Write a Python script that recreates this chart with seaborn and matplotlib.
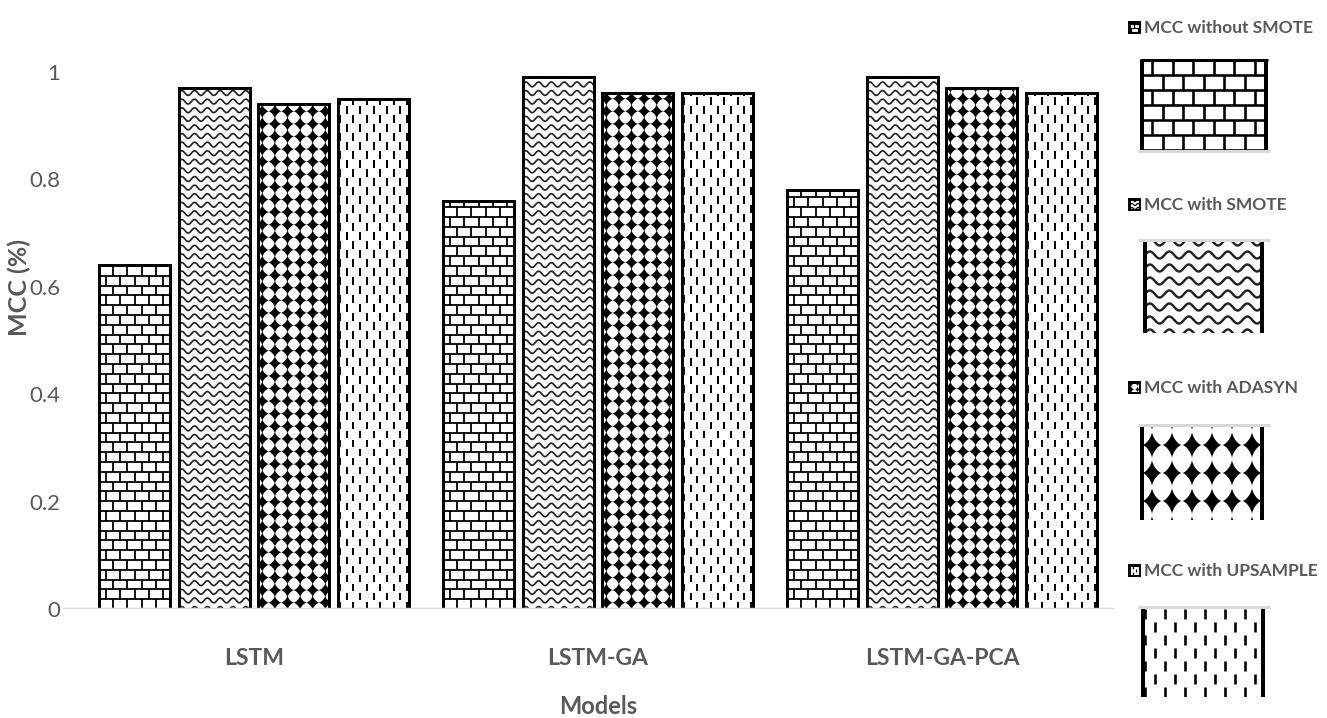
import numpy as np
import pandas as pd
import matplotlib
matplotlib.use("Agg")
import matplotlib.pyplot as plt
import seaborn as sns
from matplotlib import font_manager
from matplotlib.collections import LineCollection, PolyCollection
from matplotlib.patches import Rectangle
from matplotlib.path import Path
from matplotlib.transforms import Affine2D

# ---- data -------------------------------------------------------------
models = ["LSTM", "LSTM-GA", "LSTM-GA-PCA"]
methods = ["MCC without SMOTE", "MCC with SMOTE", "MCC with ADASYN", "MCC with UPSAMPLE"]
mcc_without_smote = [0.64, 0.76, 0.78]
mcc_with_smote = [0.97, 0.99, 0.99]
mcc_with_adasyn = [0.94, 0.96, 0.97]
mcc_with_upsample = [0.95, 0.96, 0.96]
y_ticks = [0, 0.2, 0.4, 0.6, 0.8, 1]
y_tick_labels = ["0", "0.2", "0.4", "0.6", "0.8", "1"]

df = pd.DataFrame({
    "Model": models * 4,
    "Method": np.repeat(methods, len(models)),
    "MCC": mcc_without_smote + mcc_with_smote + mcc_with_adasyn + mcc_with_upsample,
})

# ---- style ------------------------------------------------------------
sns.set_style("white")
installed = {f.name for f in font_manager.fontManager.ttflist}
narrow_first = [f for f in ["Liberation Sans Narrow", "DejaVu Sans Condensed", "Lato", "Roboto"]
                if f in installed]
plt.rcParams["font.family"] = narrow_first[:1] + ["DejaVu Sans"]
GREY_TXT = "#595959"
GREY_LINE = "#d9d9d9"

W, H, DPI = 1327, 718, 100
PX = 72.0 / DPI  # points per pixel

fig = plt.figure(figsize=(W / DPI, H / DPI), dpi=DPI)
fig.patch.set_facecolor("white")

AX_L, AX_R, AX_B = 63, 1114, 609
XMIN, XMAX, YMAX = -0.555, 2.5, 1.08
PX_PER_Y = 537.0
ax_h = YMAX * PX_PER_Y
ax = fig.add_axes([AX_L / W, (H - AX_B) / H, (AX_R - AX_L) / W, ax_h / H])

sns.barplot(
    data=df, x="Model", y="MCC", hue="Method", order=models, hue_order=methods,
    palette={m: "white" for m in methods}, saturation=1, width=0.927, gap=0.11,
    edgecolor="black", linewidth=3 * PX, errorbar=None, legend=False, ax=ax,
)
ax.set_xlim(XMIN, XMAX)
ax.set_ylim(0, YMAX)
sx = (AX_R - AX_L) / (XMAX - XMIN)
sy = PX_PER_Y


# ---- fill patterns (geometry in pixels, local origin bottom-left) -------
def brick(w, h, bw, bh, lw, color="black"):
    segs = []
    for k in range(int(np.ceil(h / bh)) + 1):
        y = k * bh
        segs.append([(-5, y), (w + 5, y)])
        x = (0.5 * bw if k % 2 else 0.0) - bw
        while x <= w + bw:
            segs.append([(x, y), (x, y + bh)])
            x += bw
    return [LineCollection(segs, colors=color, linewidths=lw * PX, capstyle="butt")]


def waves(w, h, period, dy, amp, lw, color="#222222"):
    xs = np.linspace(-period, w + period, int((w + 2 * period) * 2) + 2)
    segs = []
    for k in range(-1, int(np.ceil(h / dy)) + 2):
        ys = k * dy + 0.5 * amp * np.sin(2 * np.pi * xs / period)
        segs.append(np.column_stack([xs, ys]))
    return [LineCollection(segs, colors=color, linewidths=lw * PX)]


def diamonds(w, h, dx, dy, hw, hh, y_first, p=0.7):
    t = np.linspace(0, 2 * np.pi, 64, endpoint=False)
    c, s = np.cos(t), np.sin(t)
    ux = np.sign(c) * np.abs(c) ** (2 / p)
    uy = np.sign(s) * np.abs(s) ** (2 / p)
    polys = []
    n_side = int(np.ceil(w / dx / 2)) + 1
    xs = [w / 2 + (j + 0.5) * dx for j in range(-n_side, n_side)]
    y = y_first - dy * 2
    while y <= h + dy:
        for x in xs:
            polys.append(np.column_stack([x + hw * ux, y + hh * uy]))
        y += dy
    return [PolyCollection(polys, facecolors="black", edgecolors="none")]


def dashes(w, h, cx, period, length, lw):
    segs = []
    j = 0
    x = 2.0
    while x <= w + cx:
        off = 0.5 * period if j % 2 else 0.0
        y = off - period
        while y <= h + period:
            segs.append([(x, y), (x, y + length)])
            y += period
        x += cx
        j += 1
    return [LineCollection(segs, colors="black", linewidths=lw * PX, capstyle="butt")]


bar_fill = {
    methods[0]: lambda w, h: brick(w, h, 14.3, 9.8, 1.8),
    methods[1]: lambda w, h: waves(w, h, 12.8, 8.6, 4.8, 1.7),
    methods[2]: lambda w, h: diamonds(w, h, 12.6, 12.6, 6.6, 7.2, 6.3),
    methods[3]: lambda w, h: dashes(w, h, 6.7, 18.0, 7.5, 2.0),
}

for method, container in zip(methods, ax.containers):
    for bar in container:
        x0, bw_d, bh_d = bar.get_x(), bar.get_width(), bar.get_height()
        tr = Affine2D().scale(1 / sx, 1 / sy).translate(x0, 0) + ax.transData
        for art in bar_fill[method](bw_d * sx, bh_d * sy):
            art.set_transform(tr)
            art.set_zorder(2)
            ax.add_collection(art, autolim=False)
            art.set_clip_path(bar.get_path(), bar.get_transform())
        ax.add_patch(Rectangle((x0, 0), bw_d, bh_d, fill=False, ec="black",
                               lw=3 * PX, zorder=3, joinstyle="miter"))

ax.axhline(0, color=GREY_LINE, lw=2.5 * PX, zorder=4)
ax.set_xlim(XMIN, XMAX)
ax.set_ylim(0, YMAX)

# ---- axes text ----------------------------------------------------------
for sp in ax.spines.values():
    sp.set_visible(False)
ax.set_yticks(y_ticks)
ax.set_yticklabels(y_tick_labels)
ax.tick_params(axis="y", length=0, pad=2, labelsize=16, labelcolor=GREY_TXT)
ax.tick_params(axis="x", length=0, pad=28, labelsize=16.5, labelcolor=GREY_TXT)
for lab in ax.get_xticklabels():
    lab.set_fontweight("bold")
ax.set_xlabel("Models", fontsize=17, fontweight="bold", color=GREY_TXT)
ax.xaxis.set_label_coords((598 - AX_L) / (AX_R - AX_L), -(695 - AX_B) / ax_h)
ax.set_ylabel("MCC (%)", fontsize=18, fontweight="bold", color=GREY_TXT)
ax.yaxis.set_label_coords((31 - AX_L) / (AX_R - AX_L), (AX_B - 288) / ax_h)

# ---- legend with large swatches ------------------------------------------
lax = fig.add_axes([0, 0, 1, 1], zorder=5)
lax.set_xlim(0, W)
lax.set_ylim(H, 0)
lax.axis("off")
lax.patch.set_alpha(0)

legend_fill = {
    methods[0]: lambda w, h: brick(w, h, 20.5, 15.0, 2.6),
    methods[1]: lambda w, h: waves(w, h, 19.5, 13.0, 7.0, 2.4),
    methods[2]: lambda w, h: diamonds(w, h, 20.0, 28.0, 9.5, 13.0, 19.0),
    methods[3]: lambda w, h: dashes(w, h, 10.0, 26.0, 10.0, 2.6),
}
icon_fill = {
    methods[0]: lambda w, h: brick(w, h, 7.0, 4.0, 1.2),
    methods[1]: lambda w, h: waves(w, h, 6.0, 4.0, 2.0, 1.2, "black"),
    methods[2]: lambda w, h: diamonds(w, h, 6.0, 6.0, 2.5, 2.8, 2.0),
    methods[3]: lambda w, h: dashes(w, h, 3.0, 6.0, 3.0, 1.2),
}
legend_text_y = [28, 205, 388, 571]
swatch_boxes = [(1142, 60, 1266, 150), (1145, 242, 1262, 333),
                (1142, 427, 1262, 520), (1143, 609, 1263, 697)]
grey_rule_y = [151, 240, 425, 607]
top_border = [True, False, False, False]


def place(artists, x0, y0, x1, y1):
    tr = Affine2D().scale(1, -1).translate(x0, y1) + lax.transData
    box = Path([(x0, y0), (x1, y0), (x1, y1), (x0, y1), (x0, y0)], closed=True)
    for art in artists:
        art.set_transform(tr)
        lax.add_collection(art, autolim=False)
        art.set_clip_path(box, lax.transData)


for method, ty, box, gy, tb in zip(methods, legend_text_y, swatch_boxes, grey_rule_y, top_border):
    # small icon + label
    lax.add_patch(Rectangle((1128, ty - 7), 13, 13, fc="black", ec="none"))
    lax.add_patch(Rectangle((1130.5, ty - 4.5), 8, 8, fc="white", ec="none"))
    place(icon_fill[method](8, 8), 1130.5, ty - 4.5, 1138.5, ty + 3.5)
    lax.text(1144, ty, method, ha="left", va="center", fontsize=12.5,
             fontweight="bold", color=GREY_TXT)
    # large swatch
    x0, y0, x1, y1 = box
    lax.add_patch(Rectangle((x0, y0), x1 - x0, y1 - y0, fc="white", ec="none"))
    place(legend_fill[method](x1 - x0, y1 - y0), x0, y0, x1, y1)
    lax.plot([x0, x0], [y0, y1], color="black", lw=4 * PX, solid_capstyle="butt")
    lax.plot([x1, x1], [y0, y1], color="black", lw=4 * PX, solid_capstyle="butt")
    if tb:
        lax.plot([x0 - 2, x1 + 2], [y0, y0], color="black", lw=3 * PX, solid_capstyle="butt")
    lax.plot([1138, 1270], [gy, gy], color=GREY_LINE, lw=3 * PX, solid_capstyle="butt")

fig.savefig("out.png", dpi=DPI, facecolor="white")
